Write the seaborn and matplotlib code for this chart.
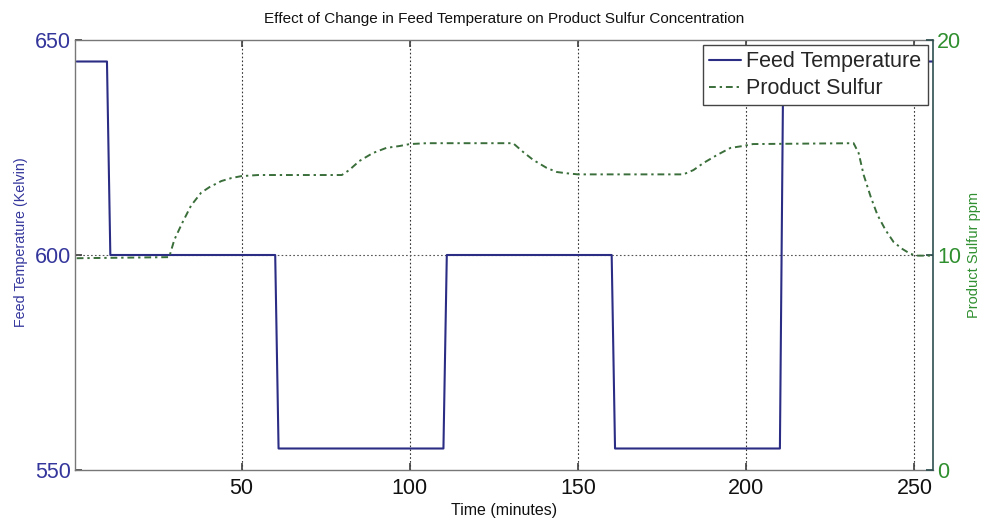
import matplotlib
matplotlib.use("Agg")
import matplotlib.pyplot as plt
import seaborn as sns
import pandas as pd

# ---- data ----
feed_time = [1, 10, 11, 60, 61, 110, 111, 160, 161, 210, 211, 256]
feed_temp = [645, 645, 600, 600, 555, 555, 600, 600, 555, 555, 645, 645]

sulfur_time = [1, 28.5, 30, 32.4, 35, 38, 40.5, 44, 47, 50, 55,
               79.8, 82, 85, 89, 93, 97, 100, 105,
               130.7, 133.7, 136.7, 140.7, 143.7, 146.7, 150,
               181.3, 184.3, 187.3, 191.3, 195.3, 199, 202,
               231.9, 233.4, 234.9, 237, 239, 241.4, 243.8, 246.4, 248.8, 251, 256]
sulfur_ppm = [9.85, 9.9, 10.7, 11.5, 12.3, 12.9, 13.16, 13.44, 13.58, 13.67, 13.72,
              13.72, 13.95, 14.37, 14.74, 14.98, 15.07, 15.16, 15.2,
              15.2, 14.79, 14.42, 14.05, 13.86, 13.8, 13.75,
              13.75, 13.95, 14.28, 14.65, 14.98, 15.07, 15.16,
              15.2, 14.74, 13.72, 12.7, 11.86, 11.16, 10.6, 10.28, 10.05, 9.97, 9.97]

x_ticks = [50, 100, 150, 200, 250]
left_ticks = [550, 600, 650]
right_ticks = [0, 10, 20]

title = "Effect of Change in Feed Temperature on Product Sulfur Concentration"

# ---- style ----
sns.set_theme(style="white")
plt.rcParams["font.family"] = ["Liberation Sans", "DejaVu Sans"]

navy = "#2b2d85"
navy_txt = "#34369c"
green_line = "#3a6e3a"
green_txt = "#2f8f2f"

fig = plt.figure(figsize=(9.88, 5.29), dpi=100)
ax = fig.add_axes([75 / 988, 1 - 470 / 529, (933 - 75) / 988, (470 - 40) / 529])
ax2 = ax.twinx()

df_feed = pd.DataFrame({"t": feed_time, "v": feed_temp})
df_sul = pd.DataFrame({"t": sulfur_time, "v": sulfur_ppm})

sns.lineplot(data=df_feed, x="t", y="v", ax=ax, color=navy, linewidth=1.5,
             estimator=None, sort=False, label="Feed Temperature", legend=False)
sns.lineplot(data=df_sul, x="t", y="v", ax=ax2, color=green_line, linewidth=1.4,
             estimator=None, sort=False, label="Product Sulfur", legend=False)
ax2.lines[0].set_dashes([3.5, 2, 1.2, 2])

ax.set_xlim(0.5, 255.5)
ax.set_ylim(550, 650)
ax2.set_ylim(0, 20)

ax.set_xticks(x_ticks)
ax.set_yticks(left_ticks)
ax2.set_yticks(right_ticks)

ax.tick_params(axis="x", direction="in", length=5, labelsize=15.5, colors="#444444",
               labelcolor="#111111", top=True, bottom=True, pad=6)
ax.tick_params(axis="y", direction="in", length=5, labelsize=15.5, colors="#444444",
               labelcolor=navy_txt, pad=3)
ax2.tick_params(axis="y", direction="in", length=5, labelsize=15.5, colors="#2f4f4f",
                labelcolor=green_txt, pad=3)

# grid: dotted vertical at x ticks, horizontal at 600
for xv in x_ticks:
    ax.axvline(xv, color="#333333", linestyle=(0, (1.5, 2)), linewidth=0.8, zorder=0)
ax.axhline(600, color="#555555", linestyle=(0, (1.5, 2)), linewidth=0.8, zorder=0)

for name in ["left", "bottom", "top"]:
    ax.spines[name].set_color("#777777")
    ax.spines[name].set_linewidth(1.0)
for name in ["left", "bottom", "top"]:
    ax2.spines[name].set_visible(False)
ax2.spines["right"].set_color("#2f4f4f")
ax2.spines["right"].set_linewidth(1.2)
ax.spines["right"].set_visible(False)

ax.set_title(title, fontsize=11, color="#111111", pad=12)
ax.set_xlabel("Time (minutes)", fontsize=11.5, color="#111111", labelpad=3)
ax.set_ylabel("Feed Temperature (Kelvin)", fontsize=10.3, color=navy_txt)
ax.yaxis.set_label_coords(-0.055, 0.53)
ax2.set_ylabel("Product Sulfur ppm", fontsize=10.5, color=green_txt, labelpad=4,
               rotation=90)

h1, l1 = ax.get_legend_handles_labels()
h2, l2 = ax2.get_legend_handles_labels()
leg = ax2.legend(h1 + h2, l1 + l2, loc="upper right", fontsize=15.5,
                 frameon=True, fancybox=False, borderaxespad=0.25,
                 borderpad=0.28, labelspacing=0.28, handlelength=1.5,
                 handletextpad=0.25)
leg.get_frame().set_edgecolor("#444444")
leg.get_frame().set_linewidth(1.0)
leg.get_frame().set_alpha(1.0)

fig.savefig("out.png", dpi=100)
